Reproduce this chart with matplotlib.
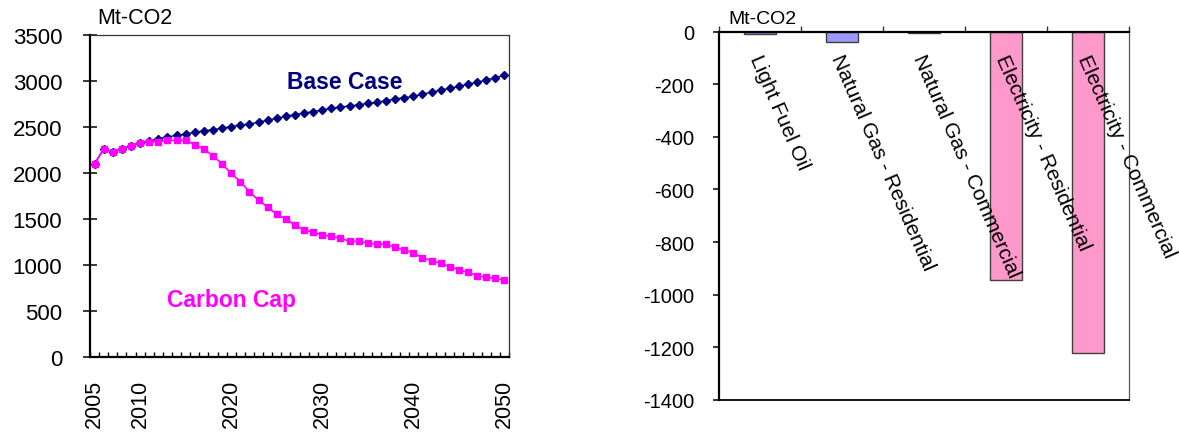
import matplotlib
matplotlib.use("Agg")
import matplotlib.pyplot as plt
from matplotlib.ticker import FixedLocator

plt.rcParams['font.family'] = ['Liberation Sans', 'DejaVu Sans']

# ---- emissions trajectories (Mt-CO2) ----
years = list(range(2005, 2051))
base_case = [2100, 2260, 2228, 2262, 2298, 2328, 2350, 2372, 2393, 2408,
             2424, 2442, 2458, 2471, 2486, 2505, 2520, 2533, 2551, 2575,
             2595, 2617, 2635, 2652, 2666, 2685, 2703, 2714, 2731, 2740,
             2757, 2768, 2786, 2804, 2818, 2833, 2858, 2877, 2901, 2920,
             2942, 2966, 2986, 3011, 3036, 3064]
carbon_cap = [2100, 2260, 2225, 2261, 2297, 2326, 2341, 2341, 2355, 2355,
              2355, 2308, 2261, 2188, 2098, 1996, 1906, 1797, 1705, 1630,
              1550, 1500, 1435, 1384, 1355, 1326, 1312, 1290, 1257, 1257,
              1239, 1228, 1228, 1192, 1163, 1130, 1079, 1047, 1018, 982,
              949, 920, 884, 866, 855, 837]
year_labels = [2005, 2010, 2020, 2030, 2040, 2050]
left_yticks = [0, 500, 1000, 1500, 2000, 2500, 3000, 3500]

# ---- change by fuel and sector (Mt-CO2) ----
fuels = ["Light Fuel Oil", "Natural Gas - Residential", "Natural Gas - Commercial",
         "Electricity - Residential", "Electricity - Commercial"]
fuel_change = [-10, -40, -4, -945, -1220]
fuel_colors = ["#9999FF", "#9999FF", "#9999FF", "#FF99CC", "#FF99CC"]
right_yticks = [0, -200, -400, -600, -800, -1000, -1200, -1400]

W, H = 1179, 435
fig = plt.figure(figsize=(W / 100, H / 100), dpi=100)

def box(l, t, r, b):
    return [l / W, 1 - b / H, (r - l) / W, (b - t) / H]

# ---------------- left panel ----------------
ax1 = fig.add_axes(box(90, 36, 509, 358))
ax1.plot(years, base_case, color="#000080", lw=1.0, marker="D", ms=3.8,
         zorder=3, clip_on=False)
ax1.plot(years, carbon_cap, color="#FF00FF", lw=1.2, marker="s", ms=5,
         zorder=4, clip_on=False)
ax1.set_xlim(2004.5, 2050.5)
ax1.set_ylim(0, 3500)
ax1.set_yticks(left_yticks)
ax1.set_xticks(year_labels)
ax1.set_xticklabels([str(y) for y in year_labels], rotation=90)
ax1.xaxis.set_minor_locator(FixedLocator([y - 0.5 for y in years] + [2050.5]))
ax1.tick_params(axis="x", which="major", length=0, pad=15.5, labelsize=15.5)
ax1.tick_params(axis="x", which="minor", direction="in", length=3.8, width=1,
                color="black")
ax1.tick_params(axis="y", which="major", direction="inout", length=10,
                width=1.1, pad=15, labelsize=16)
for s in ("left", "bottom"):
    ax1.spines[s].set_linewidth(1.6)
    ax1.spines[s].set_color("black")
for s in ("top", "right"):
    ax1.spines[s].set_linewidth(0.9)
    ax1.spines[s].set_color("#333333")
ax1.text(2032.5, 2990, "Base Case", color="#000080", fontsize=16.5,
         fontweight="bold", ha="center", va="center")
ax1.text(2020.0, 630, "Carbon Cap", color="#FF00FF", fontsize=16.5,
         fontweight="bold", ha="center", va="center")
fig.text(97 / W, 1 - 19 / H, "Mt-CO2", fontsize=15.5, ha="left", va="center")

# ---------------- right panel ----------------
ax2 = fig.add_axes(box(719, 32.5, 1129, 401))
xpos = list(range(len(fuels)))
ax2.bar(xpos, fuel_change, width=0.4, color=fuel_colors,
        edgecolor="#404040", linewidth=1.0, zorder=2)
ax2.set_xlim(-0.5, len(fuels) - 0.5)
ax2.set_ylim(-1400, 0)
ax2.set_yticks(right_yticks)
ax2.set_yticklabels([str(v) for v in right_yticks])
ax2.tick_params(axis="y", direction="out", length=4.5, width=1.1, pad=13.5,
                labelsize=14.5)
ax2.set_xticks([i - 0.5 for i in xpos] + [len(fuels) - 0.5])
ax2.set_xticklabels([])
ax2.xaxis.set_ticks_position("top")
ax2.tick_params(axis="x", direction="out", length=4.5, width=1, color="#333333")
ax2.spines["left"].set_linewidth(1.6)
ax2.spines["top"].set_linewidth(1.6)
ax2.spines["bottom"].set_linewidth(1.3)
ax2.spines["right"].set_linewidth(0.9)
ax2.spines["right"].set_color("#555555")
for i, name in zip(xpos, fuels):
    ax2.annotate(name, xy=(i, 0), xytext=(3, -20), textcoords="offset pixels",
                 rotation=-66.5, rotation_mode="anchor", ha="left", va="top",
                 fontsize=15, zorder=5, annotation_clip=False)
fig.text(728 / W, 1 - 20 / H, "Mt-CO2", fontsize=14, ha="left", va="center")

fig.savefig("out.png", dpi=100)
